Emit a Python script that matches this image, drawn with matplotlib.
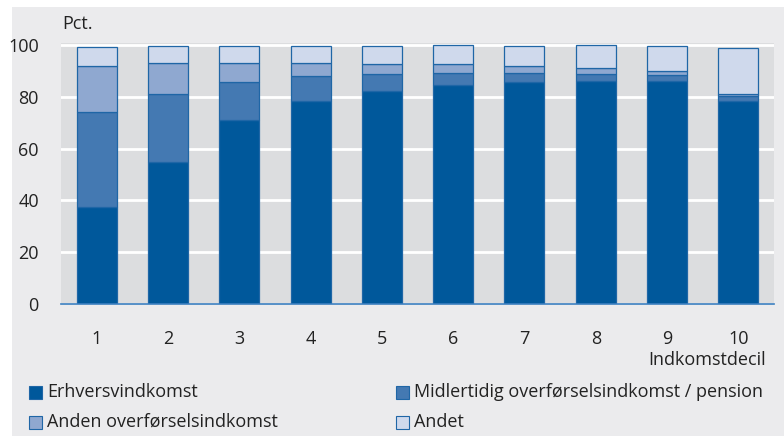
import matplotlib
matplotlib.use("Agg")
import matplotlib.pyplot as plt
from matplotlib.patches import Rectangle
from matplotlib import font_manager

names = {f.name for f in font_manager.fontManager.ttflist}
FONT = "Liberation Sans Narrow" if "Liberation Sans Narrow" in names else "Open Sans"
plt.rcParams['font.family'] = [FONT, 'DejaVu Sans']

deciles = ["1", "2", "3", "4", "5", "6", "7", "8", "9", "10"]
erhverv = [37.6, 54.9, 70.9, 78.5, 82.3, 84.6, 85.6, 86.1, 86.0, 78.5]
midl = [36.6, 26.3, 14.9, 9.5, 6.5, 4.6, 3.6, 2.7, 2.3, 1.7]
anden = [17.8, 12.0, 7.3, 5.1, 3.9, 3.3, 2.6, 2.2, 1.6, 0.9]
andet = [7.3, 6.5, 6.6, 6.7, 7.1, 7.5, 7.8, 9.0, 9.9, 17.8]
series_names = ["Erhversvindkomst", "Midlertidig overførselsindkomst / pension",
                "Anden overførselsindkomst", "Andet"]
colors = ["#00589b", "#4479b2", "#8fa8d0", "#cfd9ec"]
yticks = [0, 20, 40, 60, 80, 100]

W, H = 784, 436
fig = plt.figure(figsize=(W / 100, H / 100), dpi=100)
fig.patch.set_facecolor("white")
fig.patches.append(Rectangle((12 / W, 0), 1, 1 - 7 / H, transform=fig.transFigure,
                             facecolor="#ebebed", edgecolor="none", zorder=-10))

left, right, bottom, top = 61, 774, 304, 43
ax = fig.add_axes([left / W, 1 - bottom / H, (right - left) / W, (bottom - top) / H])
ax.set_facecolor("#dcdddf")

x = list(range(1, 11))
base = [0.0] * 10
for vals, c in zip([erhverv, midl, anden, andet], colors):
    ax.bar(x, vals, bottom=base, width=0.56, color=c, edgecolor="#1f66a6",
           linewidth=0.9, zorder=3)
    base = [b + v for b, v in zip(base, vals)]

ax.set_xlim(0.5, 10.5)
ax.set_ylim(0, 100.8)
ax.set_yticks(yticks)
ax.set_xticks(x)
ax.set_xticklabels(deciles)
ax.grid(axis="y", color="white", linewidth=2, zorder=1)
ax.set_axisbelow(True)
for s in ["left", "right", "top"]:
    ax.spines[s].set_visible(False)
ax.spines["bottom"].set_color("#3b7fc0")
ax.spines["bottom"].set_linewidth(1.2)
ax.spines["bottom"].set_zorder(4)
ax.tick_params(axis="both", length=0, labelsize=13, colors="#222222")
ax.tick_params(axis="y", pad=16)
ax.tick_params(axis="x", pad=19)

fig.text(62 / W, 1 - 24 / H, "Pct.", fontsize=13, color="#222222", va="center", ha="left")
fig.text(766 / W, 1 - 360 / H, "Indkomstdecil", fontsize=13, color="#222222",
         va="center", ha="right")

legend_pos = [(29, 392), (396, 392), (29, 422), (396, 422)]
order = [0, 1, 2, 3]
for (lx, ly), i in zip(legend_pos, order):
    fig.patches.append(Rectangle((lx / W, 1 - (ly + 7) / H), 13 / W, 13 / H,
                                 transform=fig.transFigure, facecolor=colors[i],
                                 edgecolor="#1f66a6", linewidth=0.8))
    fig.text((lx + 18) / W, 1 - ly / H, series_names[i], fontsize=13,
             color="#222222", va="center", ha="left")

fig.savefig("out.png", dpi=100)
